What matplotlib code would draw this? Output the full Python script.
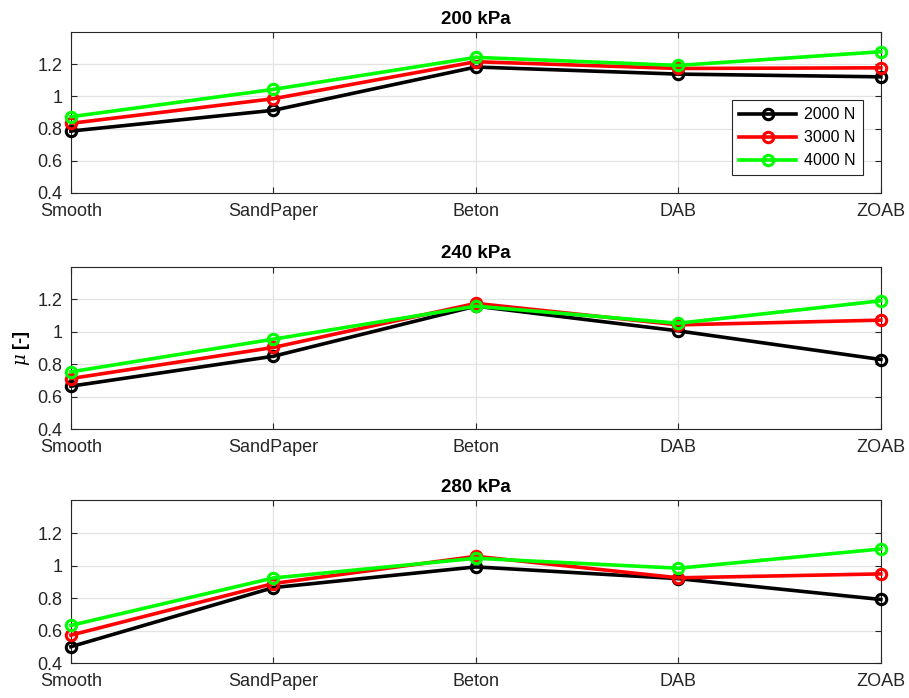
import matplotlib.pyplot as plt
import numpy as np

plt.rcParams['font.family'] = ['Liberation Sans', 'DejaVu Sans']
plt.rcParams['mathtext.fontset'] = 'dejavuserif'

surfaces = ['Smooth', 'SandPaper', 'Beton', 'DAB', 'ZOAB']
loads = ['2000 N', '3000 N', '4000 N']
colors = ['black', 'red', '#00ff00']

# friction coefficient per surface, one list per load
mu_200 = [[0.785, 0.914, 1.183, 1.139, 1.122],
          [0.833, 0.986, 1.216, 1.174, 1.178],
          [0.874, 1.044, 1.243, 1.193, 1.278]]
mu_240 = [[0.665, 0.849, 1.157, 1.005, 0.829],
          [0.712, 0.903, 1.174, 1.042, 1.071],
          [0.753, 0.954, 1.157, 1.052, 1.190]]
mu_280 = [[0.502, 0.865, 0.992, 0.920, 0.792],
          [0.573, 0.890, 1.057, 0.925, 0.949],
          [0.633, 0.924, 1.045, 0.984, 1.102]]

pressures = ['200 kPa', '240 kPa', '280 kPa']
data = [mu_200, mu_240, mu_280]

fig = plt.figure(figsize=(9.09, 6.98), dpi=100)
boxes = [(0.954, 0.7235), (0.618, 0.385), (0.283, 0.0497)]
x = np.arange(1, len(surfaces) + 1)

for k in range(3):
    top, bot = boxes[k]
    ax = fig.add_axes([0.078, bot, 0.969 - 0.078, top - bot])
    for i in range(3):
        ax.plot(x, data[k][i], '-o', color=colors[i], lw=2.6, ms=7.5,
                mfc='none', mew=2.2, label=loads[i], clip_on=False, zorder=3)
    ax.set_xlim(1, 5)
    ax.set_ylim(0.4, 1.4)
    ax.set_xticks(x)
    ax.set_xticklabels(surfaces)
    ax.set_yticks([0.4, 0.6, 0.8, 1.0, 1.2])
    ax.set_yticklabels(['0.4', '0.6', '0.8', '1', '1.2'])
    ax.grid(True, color='#e3e3e3', lw=0.9)
    ax.set_axisbelow(True)
    ax.tick_params(direction='in', length=4, width=0.8, colors='#262626',
                   labelsize=13, top=True, right=True)
    ax.tick_params(axis='x', pad=7)
    ax.tick_params(axis='y', pad=6)
    for s in ax.spines.values():
        s.set_color('#262626')
        s.set_linewidth(0.8)
    ax.set_title(pressures[k], fontsize=13.5, fontweight='bold', pad=6)
    if k == 1:
        ax.set_ylabel(r'$\mu$ [-]', fontsize=13, fontweight='bold', labelpad=4)
    if k == 0:
        leg = ax.legend(loc='upper left', bbox_to_anchor=(0.816, 0.578),
                        borderaxespad=0, fontsize=11.5, handlelength=3.6,
                        fancybox=False, edgecolor='#262626', framealpha=1,
                        labelspacing=0.5, borderpad=0.45, handletextpad=0.5)
        leg.get_frame().set_linewidth(0.8)

fig.savefig('out.png', dpi=100)
